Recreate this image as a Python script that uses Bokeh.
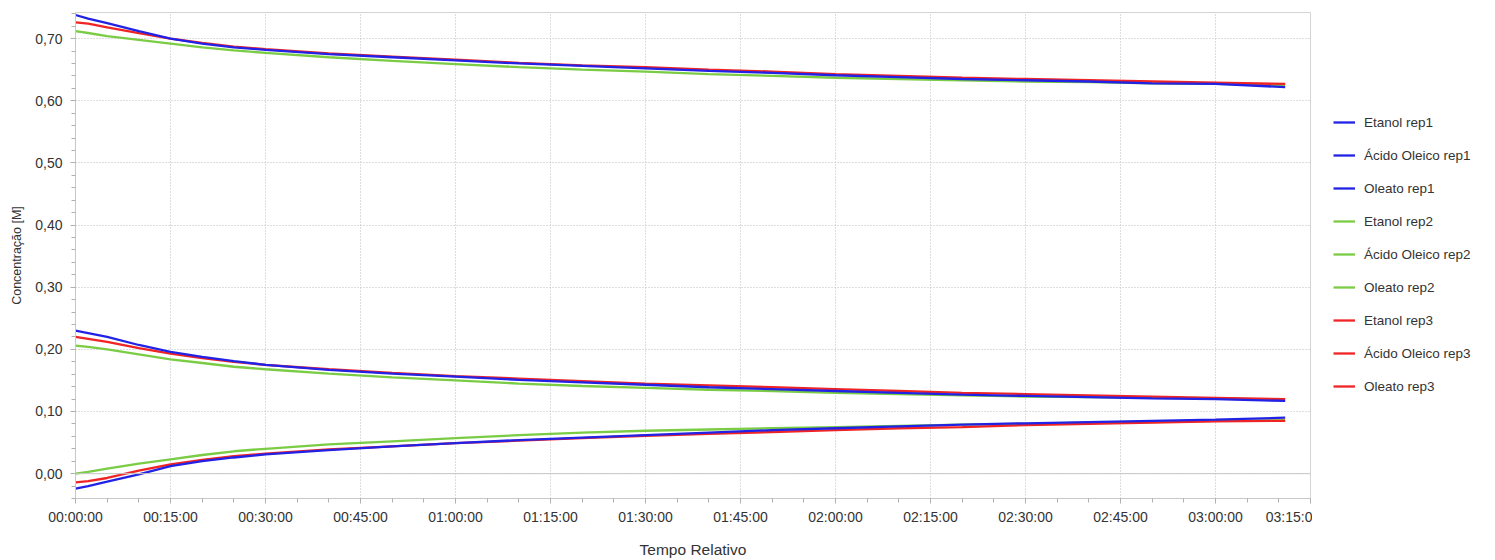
from bokeh.plotting import figure
from bokeh.models import (FixedTicker, Span, Legend, LegendItem, Range1d)
from bokeh.layouts import row
from bokeh.embed import file_html
from bokeh.resources import INLINE

# time in minutes
t = [0, 2, 5, 10, 15, 20, 25, 30, 40, 50, 60, 70, 80, 90, 100, 110, 120,
     130, 140, 150, 160, 170, 180, 191]

etanol_rep1 = [0.738, 0.732, 0.725, 0.712, 0.700, 0.692, 0.686, 0.682, 0.675, 0.670, 0.665, 0.660,
               0.656, 0.652, 0.648, 0.645, 0.641, 0.638, 0.635, 0.633, 0.631, 0.628, 0.627, 0.622]
acido_rep1 = [0.230, 0.226, 0.220, 0.207, 0.196, 0.188, 0.181, 0.175, 0.167, 0.161, 0.156, 0.151,
              0.147, 0.143, 0.139, 0.136, 0.133, 0.130, 0.127, 0.125, 0.123, 0.121, 0.120, 0.117]
oleato_rep1 = [-0.024, -0.020, -0.013, -0.001, 0.012, 0.020, 0.026, 0.031, 0.038, 0.044, 0.049, 0.054,
               0.058, 0.062, 0.066, 0.070, 0.073, 0.076, 0.079, 0.081, 0.083, 0.085, 0.087, 0.090]

etanol_rep2 = [0.712, 0.709, 0.704, 0.698, 0.692, 0.686, 0.681, 0.677, 0.670, 0.664, 0.659, 0.654,
               0.650, 0.647, 0.643, 0.640, 0.637, 0.635, 0.633, 0.631, 0.630, 0.628, 0.627, 0.625]
acido_rep2 = [0.206, 0.204, 0.200, 0.192, 0.184, 0.178, 0.172, 0.168, 0.161, 0.155, 0.150, 0.145,
              0.141, 0.138, 0.135, 0.133, 0.130, 0.128, 0.126, 0.124, 0.123, 0.122, 0.121, 0.119]
oleato_rep2 = [0.000, 0.003, 0.008, 0.016, 0.023, 0.030, 0.036, 0.040, 0.047, 0.052, 0.057, 0.062,
               0.066, 0.069, 0.071, 0.073, 0.075, 0.077, 0.079, 0.080, 0.082, 0.083, 0.085, 0.086]

etanol_rep3 = [0.726, 0.724, 0.718, 0.709, 0.700, 0.693, 0.687, 0.683, 0.676, 0.671, 0.666, 0.661,
               0.657, 0.654, 0.650, 0.647, 0.643, 0.640, 0.637, 0.635, 0.633, 0.631, 0.629, 0.627]
acido_rep3 = [0.220, 0.217, 0.212, 0.202, 0.193, 0.186, 0.180, 0.175, 0.168, 0.162, 0.157, 0.153,
              0.149, 0.145, 0.142, 0.139, 0.136, 0.133, 0.130, 0.128, 0.126, 0.124, 0.122, 0.120]
oleato_rep3 = [-0.014, -0.012, -0.007, 0.005, 0.015, 0.022, 0.028, 0.032, 0.039, 0.044, 0.049, 0.053,
               0.057, 0.061, 0.064, 0.067, 0.070, 0.073, 0.075, 0.078, 0.080, 0.082, 0.084, 0.085]

series_names = ["Etanol rep1", "Ácido Oleico rep1", "Oleato rep1",
                "Etanol rep2", "Ácido Oleico rep2", "Oleato rep2",
                "Etanol rep3", "Ácido Oleico rep3", "Oleato rep3"]
series_values = [etanol_rep1, acido_rep1, oleato_rep1,
                 etanol_rep2, acido_rep2, oleato_rep2,
                 etanol_rep3, acido_rep3, oleato_rep3]
rep_colors = ["#2222E6", "#2222E6", "#2222E6",
              "#7ACC44", "#7ACC44", "#7ACC44",
              "#F02424", "#F02424", "#F02424"]

x_ticks = [0, 15, 30, 45, 60, 75, 90, 105, 120, 135, 150, 165, 180, 195]
x_labels = ["00:00:00", "00:15:00", "00:30:00", "00:45:00", "01:00:00", "01:15:00",
            "01:30:00", "01:45:00", "02:00:00", "02:15:00", "02:30:00", "02:45:00",
            "03:00:00", "03:15:0"]
y_ticks = [0.0, 0.1, 0.2, 0.3, 0.4, 0.5, 0.6, 0.7]
y_labels = ["0,00", "0,10", "0,20", "0,30", "0,40", "0,50", "0,60", "0,70"]

FONT = "Liberation Sans"
TXT = "#333333"

p = figure(width=1312, height=560, output_backend="svg", toolbar_location=None,
           x_range=Range1d(0, 195), y_range=Range1d(-0.04, 0.742),
           min_border_left=75, min_border_top=12, min_border_bottom=61,
           min_border_right=2)
p.outline_line_color = "#d4d4d4"
p.background_fill_color = "white"

order = [3, 4, 5, 6, 7, 8, 0, 1, 2]
for i in order:
    p.line(t, series_values[i], line_color=rep_colors[i], line_width=2.3)

p.add_layout(Span(location=0, dimension="width", line_color="#c8c8c8", line_width=1))

p.xaxis.ticker = FixedTicker(ticks=x_ticks, minor_ticks=list(range(0, 196, 5)))
p.xaxis.major_label_overrides = {k: v for k, v in zip(x_ticks, x_labels)}
p.yaxis.ticker = FixedTicker(ticks=y_ticks, minor_ticks=[round(-0.04 + 0.02 * k, 2) for k in range(40)])
p.yaxis.major_label_overrides = {k: v for k, v in zip(y_ticks, y_labels)}

for ax in (p.xaxis[0], p.yaxis[0]):
    ax.axis_line_color = "#c8c8c8"
    ax.major_tick_line_color = "#b0b0b0"
    ax.minor_tick_line_color = "#b0b0b0"
    ax.major_tick_in = 0
    ax.minor_tick_in = 0
    ax.major_tick_out = 5
    ax.minor_tick_out = 4
    ax.major_label_text_font = FONT
    ax.major_label_text_font_size = "14px"
    ax.major_label_text_color = TXT
    ax.axis_label_text_font = FONT
    ax.axis_label_text_font_style = "normal"
    ax.axis_label_text_color = TXT

p.xaxis.axis_label = "Tempo Relativo"
p.yaxis.axis_label = "Concentração [M]"
p.xaxis.axis_label_text_font_size = "15.5px"
p.yaxis.axis_label_text_font_size = "12.5px"
p.xaxis.major_label_standoff = 5
p.xaxis.axis_label_standoff = 13
p.yaxis.major_label_standoff = 8
p.yaxis.axis_label_standoff = 8

for g in (p.xgrid[0], p.ygrid[0]):
    g.grid_line_color = "#bdbdbd"
    g.grid_line_dash = "1 2"
    g.grid_line_width = 1

# legend panel (proxy lines lie outside its visible range; only the legend shows)
lg = figure(width=183, height=560, output_backend="svg", toolbar_location=None,
            x_range=Range1d(0, 1), y_range=Range1d(0, 1),
            min_border_left=0, min_border_right=0, min_border_top=0, min_border_bottom=0)
lg.axis.visible = False
lg.grid.visible = False
lg.outline_line_color = None
lrs = [lg.line([5, 6], [5, 6], line_color=rep_colors[i], line_width=2.3) for i in range(9)]
items = [LegendItem(label=series_names[i], renderers=[lrs[i]]) for i in range(9)]
legend = Legend(items=items, location=(21, 102), border_line_color=None,
                background_fill_alpha=0, label_text_font=FONT, label_text_font_size="13.5px",
                label_text_color=TXT, spacing=13, glyph_width=22, label_standoff=9,
                margin=0, padding=0, label_height=20, glyph_height=20)
lg.add_layout(legend)

open("out.html", "w").write(file_html(row(p, lg), INLINE))
